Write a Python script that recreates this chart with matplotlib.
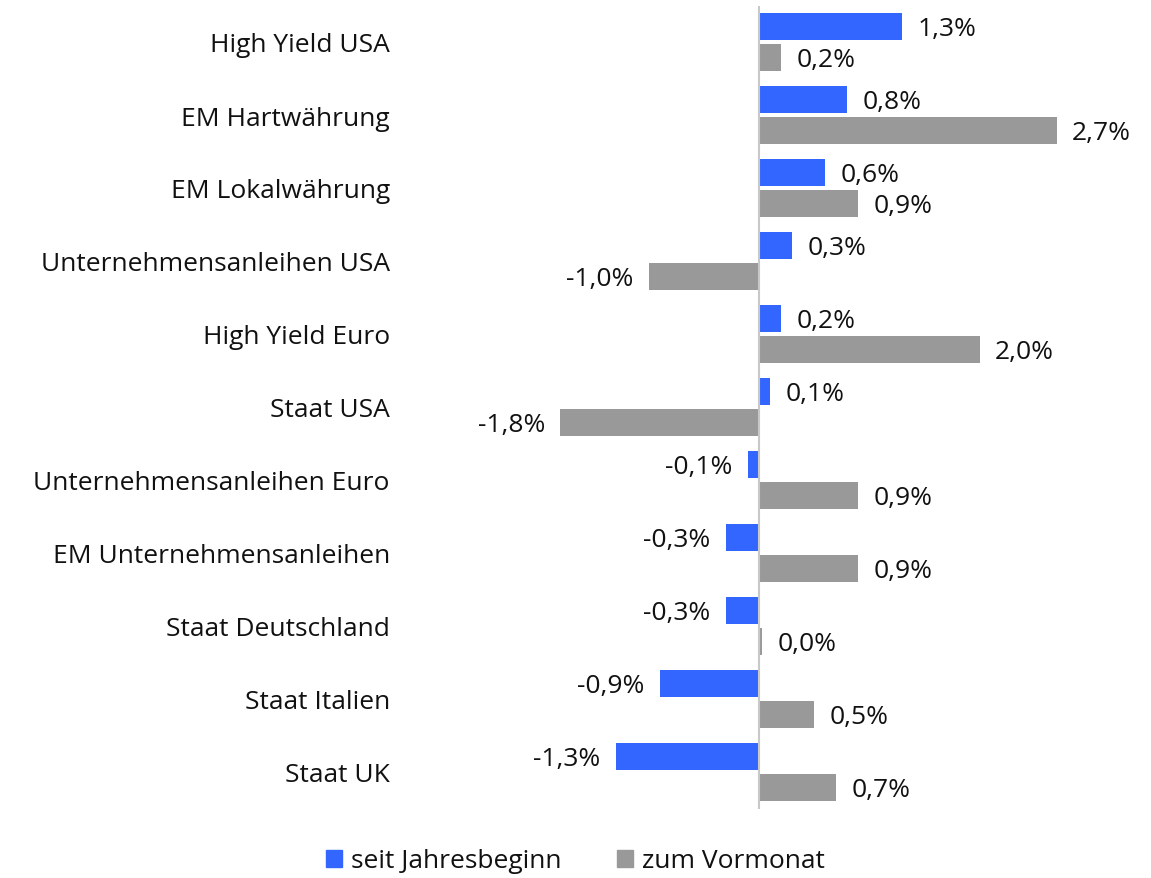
import matplotlib
matplotlib.use("Agg")
import matplotlib.pyplot as plt
from matplotlib.patches import Patch

categories = ["High Yield USA", "EM Hartwährung", "EM Lokalwährung",
              "Unternehmensanleihen USA", "High Yield Euro", "Staat USA",
              "Unternehmensanleihen Euro", "EM Unternehmensanleihen",
              "Staat Deutschland", "Staat Italien", "Staat UK"]
seit_jahresbeginn = [1.3, 0.8, 0.6, 0.3, 0.2, 0.1, -0.1, -0.3, -0.3, -0.9, -1.3]
zum_vormonat = [0.2, 2.7, 0.9, -1.0, 2.0, -1.8, 0.9, 0.9, 0.03, 0.5, 0.7]
series_names = ["seit Jahresbeginn", "zum Vormonat"]

BLUE = "#3366FF"
GRAY = "#999999"
FONT = "Open Sans"
FS = 19
TXT = "#111111"

plt.rcParams['font.family'] = [FONT, 'DejaVu Sans']

W, H = 1151, 879
fig = plt.figure(figsize=(W / 100, H / 100), dpi=100)
left_px, right_px = 403, 1140
top_px, bot_px = 6.5, 809.5
ax = fig.add_axes([left_px / W, 1 - bot_px / H, (right_px - left_px) / W, (bot_px - top_px) / H])

zero_px, ppu = 759, 110.3
ax.set_xlim((left_px - zero_px) / ppu, (right_px - zero_px) / ppu)
ax.set_ylim(len(categories) - 0.5, -0.5)

y = list(range(len(categories)))
h = 0.37
off = 0.212
ax.barh([v - off for v in y], seit_jahresbeginn, height=h, color=BLUE, zorder=2)
ax.barh([v + off for v in y], zum_vormonat, height=h, color=GRAY, zorder=2)
ax.axvline(0, color="#C8C8C8", lw=1.5, zorder=3)

def fmt(v):
    return f"{v:.1f}".replace(".", ",") + "%"

for vals, sign in ((seit_jahresbeginn, -1), (zum_vormonat, 1)):
    for i, v in enumerate(vals):
        yy = i + sign * off
        if v >= 0:
            ax.annotate(fmt(v), (v, yy), xytext=(11, -1.5), textcoords="offset points",
                        ha="left", va="center", fontsize=FS, color=TXT)
        else:
            ax.annotate(fmt(v), (v, yy), xytext=(-11, -1.5), textcoords="offset points",
                        ha="right", va="center", fontsize=FS, color=TXT)

ax.set_yticks(y)
ax.set_yticklabels(categories, fontsize=FS, color=TXT)
ax.tick_params(axis="y", length=0, pad=9.5)
ax.set_xticks([])
for s in ax.spines.values():
    s.set_visible(False)

handles = [Patch(color=BLUE), Patch(color=GRAY)]
fig.legend(handles, series_names, loc="center", bbox_to_anchor=(0.5, 1 - 862 / H),
           ncol=2, frameon=False, fontsize=FS, handlelength=0.6, handleheight=0.6,
           handletextpad=0.35, columnspacing=2.1, labelcolor=TXT)

fig.savefig("out.png", dpi=100)
